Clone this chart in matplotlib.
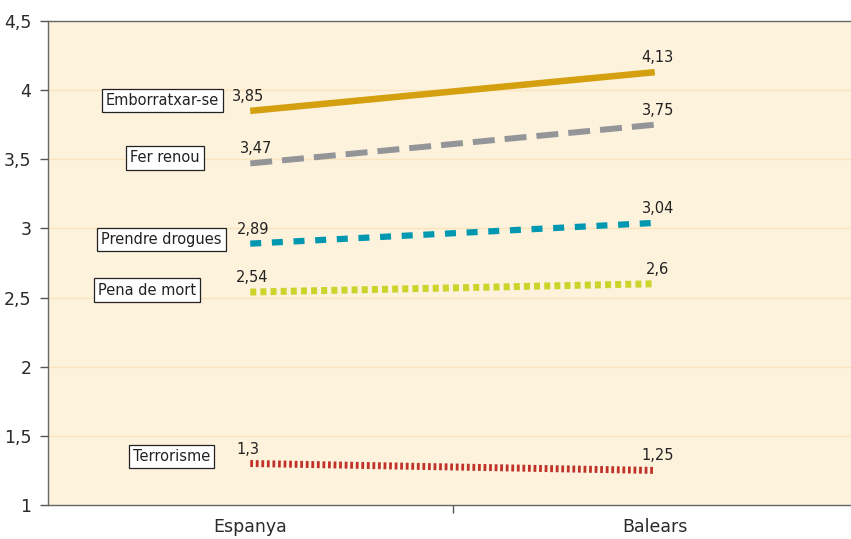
import matplotlib
matplotlib.use("Agg")
import matplotlib.pyplot as plt

plt.rcParams['font.family'] = ['DejaVu Sans']
plt.rcParams['lines.scale_dashes'] = False

categories = ["Espanya", "Balears"]
series_names = ["Emborratxar-se", "Fer renou", "Prendre drogues", "Pena de mort", "Terrorisme"]
emborratxar = [3.85, 4.13]
fer_renou = [3.47, 3.75]
prendre_drogues = [2.89, 3.04]
pena_de_mort = [2.54, 2.6]
terrorisme = [1.3, 1.25]
value_labels = {
    "Emborratxar-se": ["3,85", "4,13"],
    "Fer renou": ["3,47", "3,75"],
    "Prendre drogues": ["2,89", "3,04"],
    "Pena de mort": ["2,54", "2,6"],
    "Terrorisme": ["1,3", "1,25"],
}
yticks = [1, 1.5, 2, 2.5, 3, 3.5, 4, 4.5]
ytick_labels = ["1", "1,5", "2", "2,5", "3", "3,5", "4", "4,5"]

series = [emborratxar, fer_renou, prendre_drogues, pena_de_mort, terrorisme]
styles = [
    dict(color="#D4A00F", lw=4.7, dashes=None),
    dict(color="#939598", lw=4.3, dashes=(15.8, 7.2)),
    dict(color="#0098B0", lw=4.5, dashes=(7.9, 7.7)),
    dict(color="#CCD32A", lw=5.0, dashes=(4.3, 3.0)),
    dict(color="#C0322A", lw=5.0, dashes=(2.0, 2.0)),
]
# name box centers (pixel offsets from line start)
box_offsets = [(-88, 10), (-85, 5.5), (-89, 4), (-103, 2), (-79, 6.6)]
value_offsets_left = [(-2, 7), (6, 7), (3, 7), (2, 7), (-2, 7)]

W, H = 851, 539
fig = plt.figure(figsize=(W / 100, H / 100), dpi=100)
ax = fig.add_axes([48 / W, 1 - 505 / H, 809 / W, 484 / H])
ax.set_facecolor("#FDF2DC")
ax.set_xlim(-0.5, 1.5)
ax.set_ylim(1, 4.5)

for yv in yticks[1:-1]:
    ax.axhline(yv, color="#FBE4BC", lw=1.0, zorder=1)

x = [0, 1]
for name, vals, st, off, voff in zip(series_names, series, styles, box_offsets, value_offsets_left):
    ln, = ax.plot(x, vals, color=st["color"], lw=st["lw"], solid_capstyle="butt",
                  dash_capstyle="butt", zorder=3)
    if st["dashes"] is not None:
        ln.set_dashes(st["dashes"])
    labs = value_labels[name]
    ax.annotate(labs[0], (0, vals[0]), xytext=voff, textcoords="offset pixels",
                ha="center", va="bottom", fontsize=10.5, color="#222222", zorder=4)
    ax.annotate(labs[1], (1, vals[1]), xytext=(3, 7), textcoords="offset pixels",
                ha="center", va="bottom", fontsize=10.5, color="#222222", zorder=4)
    ax.annotate(name, (0, vals[0]), xytext=off, textcoords="offset pixels",
                ha="center", va="center", fontsize=10.5, color="#222222", zorder=5,
                bbox=dict(boxstyle="square,pad=0.28", fc="white", ec="#222222", lw=0.9))

ax.set_yticks(yticks)
ax.set_yticklabels(ytick_labels, fontsize=12.5, color="#2a2a2a")
ax.set_xticks([0.5])
ax.set_xticklabels([""])
ax.set_xticks([0, 1], minor=True)
ax.set_xticklabels(categories, minor=True, fontsize=12.5, color="#2a2a2a")
ax.tick_params(axis="x", which="minor", length=0, pad=9)
ax.tick_params(axis="x", which="major", length=6, color="#555555", width=1)
ax.tick_params(axis="y", length=6, color="#555555", width=1, pad=6)
for sp in ax.spines.values():
    sp.set_color("#666666")
    sp.set_linewidth(1.0)

fig.savefig("out.png", dpi=100)
